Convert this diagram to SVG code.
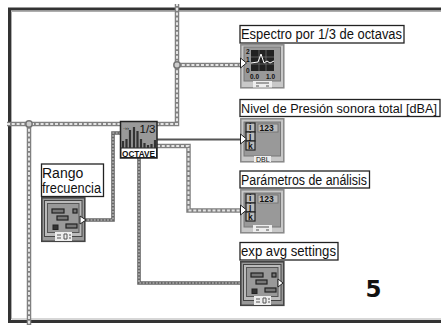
<svg xmlns="http://www.w3.org/2000/svg" width="441" height="325" viewBox="0 0 441 325">
<style>
text{font-family:"Liberation Sans",Arial,sans-serif;fill:#111}
.lbl{font-size:14px}
.lbs{font-size:12.500px}
.box{fill:#fff;stroke:#222;stroke-width:1.3}
.w{fill:none}
.so{stroke:#808080;stroke-width:4.500}
.si{stroke:#e4e4e4;stroke-width:2;stroke-dasharray:3 1.800}
.do{stroke:#666;stroke-width:3.600}
.di{stroke:#ccc;stroke-width:1.200;stroke-dasharray:1.800 1.500}
.dk{fill:#777;stroke:#222;stroke-width:1.200}
.cell{fill:#bbb;stroke:#222;stroke-width:1.200}
.tiny{font-size:8.500px;font-weight:bold}
.small{font-size:6.500px;font-weight:bold}
.five{font-family:"DejaVu Sans",sans-serif;font-size:23px;font-weight:bold}
</style>
<defs>
<g id="cluster">
<rect x="0.800" y="0.800" width="43" height="43.500" fill="#999" stroke="#444" stroke-width="1.600"/>
<rect x="3.500" y="3.500" width="37.500" height="36" fill="#bbb" stroke="#444"/>
<rect x="6.500" y="6.500" width="31.500" height="29" fill="#999" stroke="#555"/>
<rect x="11" y="12" width="12" height="4" class="dk"/><rect x="32" y="12" width="4" height="4" class="dk"/>
<rect x="16" y="19" width="11" height="4" class="dk"/><rect x="25" y="27" width="11" height="4" class="dk"/><rect x="12" y="28" width="5" height="4.500" fill="#333" stroke="#222"/>
<rect x="14" y="35" width="17" height="9" fill="#eee"/>
<path d="M16 38h4M16 41h4M23 37h3v5h-3zM28 38h2M28 41h2" stroke="#555" fill="none"/>
</g>
<g id="indicator">
<rect x="0.800" y="0.800" width="43" height="43" fill="#c8c8c8" stroke="#888" stroke-width="1.500"/>
<rect x="4" y="4" width="36.500" height="34" fill="#999" stroke="#777"/>
<rect x="6" y="5" width="9" height="9" class="cell"/><rect x="6" y="14" width="9" height="9" class="cell"/><rect x="6" y="23" width="9" height="9" class="cell"/>
<text x="9" y="12" class="tiny">i</text><text x="9" y="21" class="tiny">j</text><text x="8" y="30.500" class="tiny">k</text>
<rect x="18" y="6" width="20" height="8" fill="#bbb" stroke="#777"/>
<text x="19.500" y="13" class="tiny">123</text>
<path d="M0.500 16l6 5-6 5z" fill="#fff" stroke="#222"/>
</g>
</defs>

<g id="frame">
<path d="M441 9H9.500V321.500H441" fill="none" stroke="#333" stroke-width="3"/>
<path d="M441 11.500H11.500V319H441" fill="none" stroke="#999" stroke-width="0.800"/>
</g>

<g id="connectors">
<path class="w so" d="M7 124H177V4"/><path class="w si" d="M7 124H177V4"/>
<path class="w so" d="M177 65H240"/><path class="w si" d="M177 65H240"/>
<path class="w so" d="M29 124V325"/><path class="w si" d="M29 124V325"/>
<path class="w so" d="M157 146H188.500V210.500H240"/><path class="w si" d="M157 146H188.500V210.500H240"/>
<path class="w do" d="M84 220H113V133H120"/><path class="w di" d="M84 220H113V133H120"/>
<path class="w do" d="M139 158V283H240"/><path class="w di" d="M139 158V283H240"/>
<path class="w" stroke="#555" stroke-width="1.800" d="M157 139.500H240"/>
<circle cx="177" cy="65" r="3.200" fill="#ccc" stroke="#777" stroke-width="1.500"/>
<circle cx="29" cy="124" r="3.200" fill="#ccc" stroke="#777" stroke-width="1.500"/>
</g>

<g id="octave">
<rect x="120.500" y="121.500" width="36.500" height="36.500" fill="#999" stroke="#222" stroke-width="1.500"/>
<rect x="121" y="148" width="35.500" height="9.500" fill="#fff" stroke="#222"/>
<path d="M123 148v-7M126.500 148v-9M130 148v-18M134 148v-21M137.500 148v-17M141 148v-9M144.500 148v-5M148 148v-3M151.500 148v-4M155 148v-8" stroke="#333" stroke-width="2.200"/>
<text x="139.500" y="133" font-size="11.500">1/3</text>
<text x="123" y="130" font-size="6">·››</text>
<text x="122" y="156.500" font-size="8.500" font-weight="bold" textLength="33" lengthAdjust="spacingAndGlyphs">OCTAVE</text>
</g>

<g id="rango">
<rect class="box" x="41.500" y="164" width="62" height="32.500"/>
<text class="lbl" x="42" y="178">Rango</text>
<text class="lbl" x="42" y="193" textLength="59" lengthAdjust="spacingAndGlyphs">frecuencia</text>
<use href="#cluster" x="41" y="197"/>
<path d="M80 216l6 4-6 4z" fill="#fff" stroke="#222"/>
</g>

<g id="espectro">
<rect class="box" x="240" y="25.500" width="164" height="17.500"/>
<text class="lbl" x="241" y="39" textLength="161" lengthAdjust="spacingAndGlyphs">Espectro por 1/3 de octavas</text>
<rect x="240.800" y="44.800" width="43" height="43" fill="#c8c8c8" stroke="#888" stroke-width="1.500"/>
<rect x="244" y="47" width="36.500" height="34" fill="#999" stroke="#777"/>
<rect x="251" y="50" width="23" height="21" fill="#222"/>
<path d="M259 50v21M266 50v21M251 57h23M251 64h23" stroke="#777" stroke-width="0.700"/>
<path d="M251 63l7-1 3-8 3 9 3-2 3 2 4-2" fill="none" stroke="#fff" stroke-width="1"/>
<text x="246" y="54" class="small">2</text><text x="246" y="62" class="small">1</text><text x="246" y="73" class="small">0</text>
<text x="250" y="79" class="small">0.0</text><text x="266" y="79" class="small">1.0</text>
<rect x="253" y="81" width="19" height="6.500" fill="#eee"/>
<path d="M256 83h13M256 86h3M266 86h3" stroke="#555"/>
<path d="M240.500 58l6 5-6 5z" fill="#fff" stroke="#222"/>
</g>

<g id="nivel">
<rect class="box" x="240" y="99.500" width="200" height="17"/>
<text class="lbs" x="241" y="113" textLength="196" lengthAdjust="spacingAndGlyphs">Nivel de Presión sonora total [dBA]</text>
<use href="#indicator" x="240" y="118"/>
<rect x="254" y="156" width="17" height="6" fill="#eee"/>
<text x="256" y="162" font-size="7" fill="#555">DBL</text>
</g>

<g id="parametros">
<rect class="box" x="240" y="171" width="129.500" height="17"/>
<text class="lbl" x="241" y="185" textLength="126" lengthAdjust="spacingAndGlyphs">Parámetros de análisis</text>
<use href="#indicator" x="240" y="189"/>
<rect x="253" y="225" width="19" height="7" fill="#eee"/>
<path d="M256 227h13M256 230h3M266 230h3" stroke="#555"/>
</g>

<g id="exp">
<rect class="box" x="240" y="242.500" width="98" height="17.500"/>
<text class="lbl" x="241" y="256" textLength="95" lengthAdjust="spacingAndGlyphs">exp avg settings</text>
<use href="#cluster" x="240" y="261"/>
<path d="M278 279l5 4-5 4z" fill="#fff" stroke="#222"/>
</g>

<text id="num" class="five" x="365.500" y="297">5</text>
</svg>
